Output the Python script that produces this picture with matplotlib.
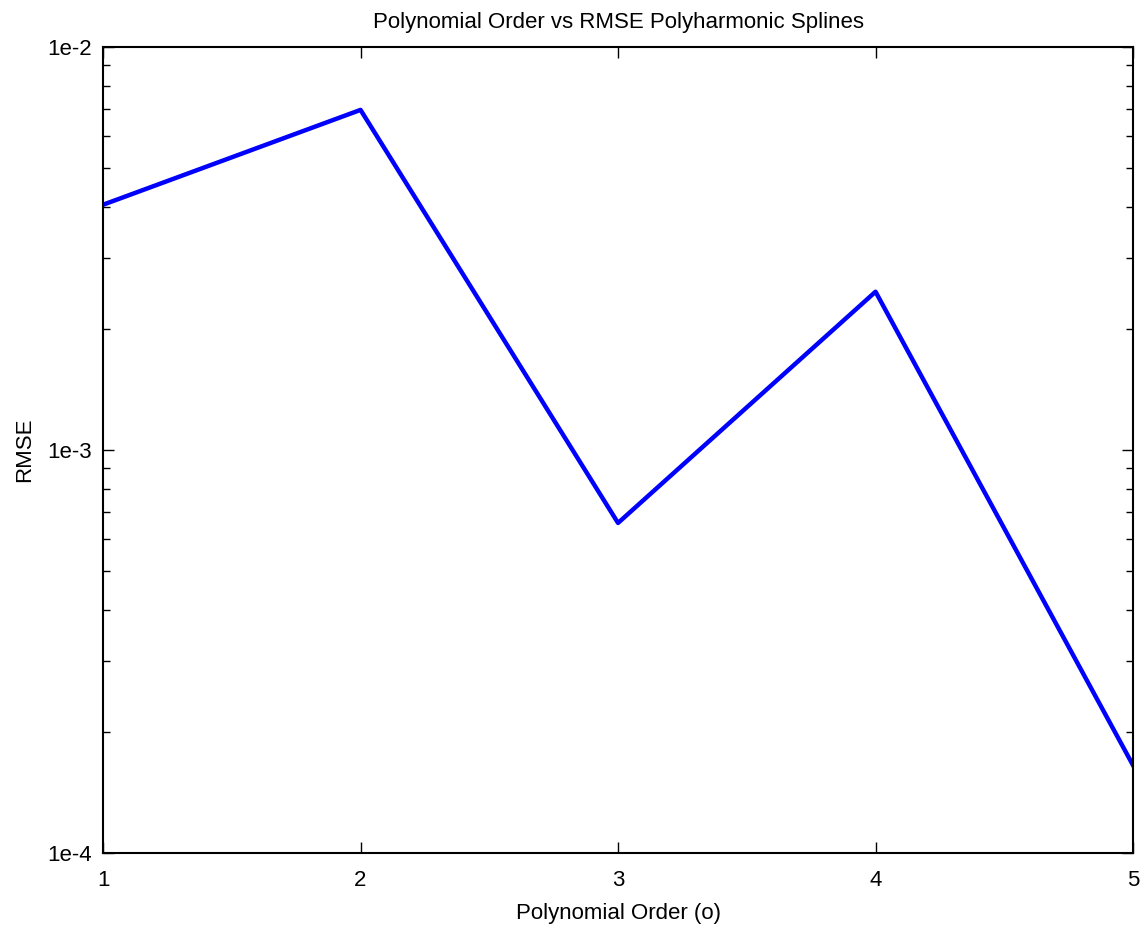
import numpy as np
import matplotlib.pyplot as plt
from matplotlib.ticker import FixedLocator, LogLocator, NullFormatter

plt.rcParams['font.family'] = ['Liberation Sans', 'DejaVu Sans']

order = [1, 2, 3, 4, 5]
rmse = [4.06e-3, 6.98e-3, 6.59e-4, 2.47e-3, 1.65e-4]

fig = plt.figure(figsize=(11.46, 9.32), dpi=100)
ax = fig.add_axes([0.0899, 0.0848, 0.8988, 0.8648])

ax.plot(order, rmse, color='#0000ff', linewidth=3.2)
ax.set_yscale('log')
ax.set_xlim(1, 5)
ax.set_ylim(1e-4, 1e-2)

ax.xaxis.set_major_locator(FixedLocator(order))
ax.yaxis.set_major_locator(FixedLocator([1e-4, 1e-3, 1e-2]))
ax.set_yticklabels(['1e-4', '1e-3', '1e-2'])
ax.yaxis.set_minor_locator(LogLocator(base=10, subs=np.arange(2, 10)))
ax.yaxis.set_minor_formatter(NullFormatter())

ax.tick_params(which='both', direction='in', top=True, right=True,
               labelsize=16, width=1)
ax.tick_params(axis='x', pad=12)
ax.tick_params(axis='y', pad=8)
ax.tick_params(which='major', length=8)
ax.tick_params(which='minor', length=5)
for s in ax.spines.values():
    s.set_linewidth(1.5)

ax.set_xlabel('Polynomial Order (o)', fontsize=16, labelpad=9)
ax.set_ylabel('RMSE', fontsize=16, labelpad=9)
ax.set_title('Polynomial Order vs RMSE Polyharmonic Splines', fontsize=16, pad=14)

fig.savefig('out.png', dpi=100)
